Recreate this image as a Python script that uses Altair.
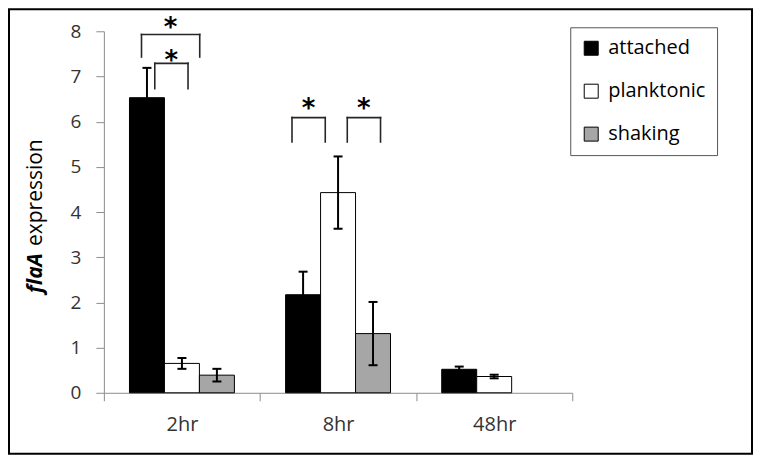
import altair as alt
import pandas as pd

# ---------------- data ----------------
groups = ["2hr", "8hr", "48hr"]
series = ["attached", "planktonic", "shaking"]
colors = ["#000000", "#ffffff", "#a6a6a6"]

attached_mean = [6.53, 2.17, 0.52]
attached_err = [0.66, 0.51, 0.06]
planktonic_mean = [0.65, 4.43, 0.36]
planktonic_err = [0.12, 0.80, 0.04]
shaking_mean = [0.39, 1.31, None]
shaking_err = [0.14, 0.70, None]

# significance brackets (position within group as fraction of group width)
bracket_group = ["2hr", "2hr", "8hr", "8hr"]
bracket_from = [0.241, 0.326, 0.205, 0.559]
bracket_to = [0.614, 0.539, 0.418, 0.772]
bracket_top = [7.93, 7.29, 6.09, 6.09]
bracket_bottom = [7.43, 6.73, 5.55, 5.55]
star_y = [8.23, 7.49, 6.44, 6.44]
star_text = ["*", "*", "*", "*"]

# ---------------- layout helpers ----------------
W, H = 469, 362
BAR_W = 0.224          # bar width as fraction of a group
GROUP_PAD = 0.164      # left padding inside a group
FONT = "Open Sans"

means = [attached_mean, planktonic_mean, shaking_mean]
errs = [attached_err, planktonic_err, shaking_err]
rows = []
for gi, g in enumerate(groups):
    for si, s in enumerate(series):
        m = means[si][gi]
        e = errs[si][gi]
        if m is None:
            continue
        x0 = gi + GROUP_PAD + si * BAR_W
        rows.append({
            "group": g, "series": s, "mean": m,
            "x0": x0, "x1": x0 + BAR_W, "xc": x0 + BAR_W / 2,
            "lo": m - e, "hi": m + e,
        })
df = pd.DataFrame(rows)

seg = []
for g, a, b, t, bt in zip(bracket_group, bracket_from, bracket_to, bracket_top, bracket_bottom):
    gi = groups.index(g)
    xa, xb = gi + a, gi + b
    seg.append({"x": xa, "x2": xa, "y": bt, "y2": t})
    seg.append({"x": xa, "x2": xb, "y": t, "y2": t})
    seg.append({"x": xb, "x2": xb, "y": bt, "y2": t})
seg_df = pd.DataFrame(seg)

stars_df = pd.DataFrame({
    "x": [groups.index(g) + (a + b) / 2 for g, a, b in zip(bracket_group, bracket_from, bracket_to)],
    "y": star_y,
    "t": star_text,
})

label_expr = "[" + ",".join(f"'{g}'" for g in groups) + ",''][datum.value]"

xscale = alt.Scale(domain=[0, len(groups)], nice=False, zero=False)
yscale = alt.Scale(domain=[0, 8], nice=False)

xaxis = alt.Axis(values=list(range(len(groups) + 1)), labelExpr=label_expr, labelOffset=W / len(groups) / 2,
                 title=None, grid=False, tickSize=8, labelPadding=14, labelFontSize=20, labelFont=FONT,
                 labelColor="#333333", domainColor="#8c8c8c", tickColor="#8c8c8c", labelFlush=False,
                 labelOverlap=False, labelBound=False)
yaxis = alt.Axis(values=list(range(0, 9)), title=None, grid=False, tickSize=8, labelPadding=15,
                 labelFontSize=19, labelFont=FONT, labelColor="#333333", domainColor="#8c8c8c",
                 tickColor="#8c8c8c")

base = alt.Chart(df)

bars = base.mark_bar(stroke="black", strokeWidth=1).encode(
    x=alt.X("x0:Q", scale=xscale, axis=xaxis),
    x2="x1:Q",
    y=alt.Y("mean:Q", scale=yscale, axis=yaxis),
    y2=alt.datum(0),
    fill=alt.Fill("series:N", scale=alt.Scale(domain=series, range=colors),
                  legend=alt.Legend(orient="none", legendX=467, legendY=-4, title=None,
                                    symbolType="square", symbolSize=196, symbolStrokeColor="black",
                                    symbolStrokeWidth=1, symbolOpacity=1, labelFontSize=20, labelFont=FONT,
                                    labelColor="black", padding=11, rowPadding=23, strokeColor="#555555",
                                    fillColor="white", labelOffset=7)),
)

err_rule = base.mark_rule(color="black", strokeWidth=2).encode(
    x="xc:Q", y="lo:Q", y2="hi:Q")
cap_hi = base.mark_tick(orient="horizontal", size=9, thickness=2, color="black", opacity=1).encode(
    x="xc:Q", y="hi:Q")
cap_lo = base.mark_tick(orient="horizontal", size=9, thickness=2, color="black", opacity=1).encode(
    x="xc:Q", y="lo:Q")

brackets = alt.Chart(seg_df).mark_rule(color="#262626", strokeWidth=1.6, strokeCap="square").encode(
    x="x:Q", x2="x2:Q", y="y:Q", y2="y2:Q")

stars = alt.Chart(stars_df).mark_text(font="DejaVu Sans", fontSize=26, fontWeight="bold",
                                      baseline="alphabetic", dy=15, color="black").encode(
    x="x:Q", y="y:Q", text="t:N")

one = pd.DataFrame({"a": [0]})
ttl1 = alt.Chart(one).mark_text(text="flaA", font=FONT, fontSize=21, fontWeight="bold", fontStyle="italic",
                                angle=270, align="left", baseline="middle", color="black").encode(
    x=alt.value(-68), y=alt.value(262))
ttl2 = alt.Chart(one).mark_text(text="expression", font=FONT, fontSize=21,
                                angle=270, align="left", baseline="middle", color="black").encode(
    x=alt.value(-68), y=alt.value(215))

border = alt.Chart(one).mark_rect(fillOpacity=0, stroke="black", strokeWidth=2).encode(
    x=alt.value(-95), x2=alt.value(649), y=alt.value(-22), y2=alt.value(423))

chart = alt.layer(bars, err_rule, cap_hi, cap_lo, brackets, stars, ttl1, ttl2, border).properties(
    width=W, height=H,
    padding={"left": 96, "top": 23, "right": 181, "bottom": 62},
    autosize=alt.AutoSizeParams(type="none"),
    background="white",
).configure_view(stroke=None)

chart.save("out.html", embed_options={"renderer": "svg", "actions": False})
